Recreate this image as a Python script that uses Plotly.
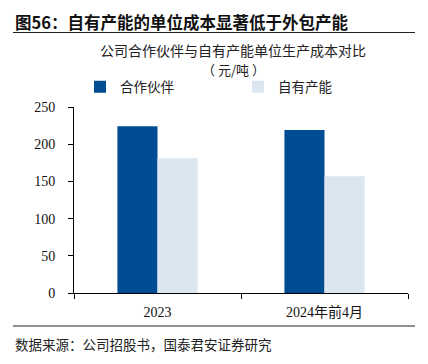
import plotly.graph_objects as go

categories = ["2023", "2024年前4月"]
partner_vals = [224, 219]
own_vals = [181, 157]
series_names = ["合作伙伴", "自有产能"]
y_ticks = [0, 50, 100, 150, 200, 250]

# page has an 8px body margin; size figure to fill remaining window
OFF = 8
W, H = 428 - OFF, 364 - OFF
L, R, T, B = 74 - OFF, 20, 107 - OFF, 71
pw, ph = W - L - R, H - T - B

def px(x):
    return (x - OFF - L) / pw

def py(y):
    return (H - B - (y - OFF)) / ph

cjk = "Noto Sans CJK SC"
serif = "Liberation Serif"

fig = go.Figure()
fig.add_trace(go.Bar(x=categories, y=partner_vals, name=series_names[0],
                     marker=dict(color="#004C93", line=dict(width=0))))
fig.add_trace(go.Bar(x=categories, y=own_vals, name=series_names[1],
                     marker=dict(color="#DCE6F0", line=dict(width=0))))

fig.update_layout(
    width=W, height=H,
    margin=dict(l=L, r=R, t=T, b=B, autoexpand=False),
    paper_bgcolor="white", plot_bgcolor="white",
    barmode="group", bargap=0.52, bargroupgap=0,
    showlegend=True,
    legend=dict(orientation="h", x=px(80), y=py(87), xanchor="left", yanchor="middle",
                entrywidth=113, entrywidthmode="pixels", itemwidth=30,
                font=dict(family=cjk, size=13.5, color="#222"), bgcolor="rgba(0,0,0,0)"),
    font=dict(family=serif, size=14, color="#111"),
    xaxis=dict(showline=True, linecolor="black", linewidth=1, ticks="outside",
               tickson="boundaries", ticklen=5, tickcolor="black",
               ticklabelstandoff=6,
               tickfont=dict(family=serif + ", " + cjk, size=14, color="#111"),
               showgrid=False, zeroline=False),
    yaxis=dict(range=[0, 250], tickvals=y_ticks, showline=True, linecolor="black",
               linewidth=1, ticks="outside", ticklen=5, tickcolor="black",
               ticklabelstandoff=10,
               tickfont=dict(family=serif, size=14, color="#111"),
               showgrid=False, zeroline=False),
)

annots = [
    dict(text="<b>图56：自有产能的单位成本显著低于外包产能</b>", x=px(13), y=py(21.5),
         xanchor="left", yanchor="middle", font=dict(family=cjk, size=16.5, color="#111")),
    dict(text="公司合作伙伴与自有产能单位生产成本对比", x=px(233), y=py(50),
         xanchor="center", yanchor="middle", font=dict(family=cjk, size=14, color="#222")),
    dict(text="（ 元/吨 ）", x=px(233), y=py(70),
         xanchor="center", yanchor="middle", font=dict(family=cjk, size=13, color="#222")),
    dict(text="数据来源：公司招股书，国泰君安证券研究", x=px(13), y=py(344),
         xanchor="left", yanchor="middle", font=dict(family=cjk, size=13.5, color="#222")),
]
for a in annots:
    fig.add_annotation(xref="paper", yref="paper", showarrow=False, **a)

for yy in (32.5, 326):
    fig.add_shape(type="line", xref="paper", yref="paper", x0=px(13), x1=px(415),
                  y0=py(yy), y1=py(yy), line=dict(color="#222", width=1))

fig.write_html("out.html")
